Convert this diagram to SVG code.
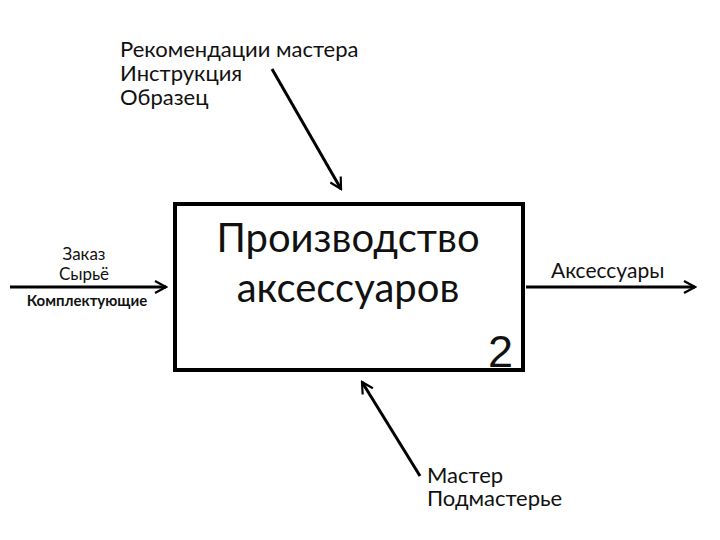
<svg xmlns="http://www.w3.org/2000/svg" width="720" height="540" viewBox="0 0 720 540">
<style>
text{font-family:Lato,"Liberation Sans",sans-serif;fill:#111}
.c{stroke:#000;stroke-width:3;fill:none;marker-end:url(#ah)}
</style>
<defs>
<marker id="ah" markerWidth="14" markerHeight="14" refX="12" refY="7" orient="auto" markerUnits="userSpaceOnUse">
<path d="M1,1 L12,7 L1,13" fill="none" stroke="#000" stroke-width="2.2"/>
</marker>
</defs>
<rect width="720" height="540" fill="#fff"/>
<g id="connectors">
<line class="c" x1="272" y1="69" x2="341" y2="189"/>
<line class="c" x1="420" y1="476" x2="362" y2="382"/>
<line class="c" x1="10" y1="287" x2="166" y2="287"/>
<line class="c" x1="526" y1="287" x2="695" y2="287"/>
</g>
<g id="box">
<rect x="175" y="204" width="348" height="166" fill="#fff" stroke="#000" stroke-width="4"/>
<text x="348" y="252" font-size="40" text-anchor="middle">Производство</text>
<text x="348" y="302" font-size="40" text-anchor="middle">аксессуаров</text>
<text x="513" y="367" font-size="45" text-anchor="end" style="font-family:'Liberation Sans',Arial,sans-serif">2</text>
</g>
<g id="controls">
<text x="120" y="57" font-size="22">Рекомендации мастера</text>
<text x="120" y="81" font-size="22">Инструкция</text>
<text x="120" y="105" font-size="22">Образец</text>
</g>
<g id="inputs">
<text x="84" y="260" font-size="17" text-anchor="middle">Заказ</text>
<text x="84" y="280" font-size="17" text-anchor="middle">Сырьё</text>
<text x="87" y="306" font-size="15" font-weight="bold" text-anchor="middle">Комплектующие</text>
</g>
<g id="outputs">
<text x="551" y="278" font-size="21">Аксессуары</text>
</g>
<g id="mechanisms">
<text x="427" y="483" font-size="22">Мастер</text>
<text x="427" y="506" font-size="22">Подмастерье</text>
</g>
</svg>
